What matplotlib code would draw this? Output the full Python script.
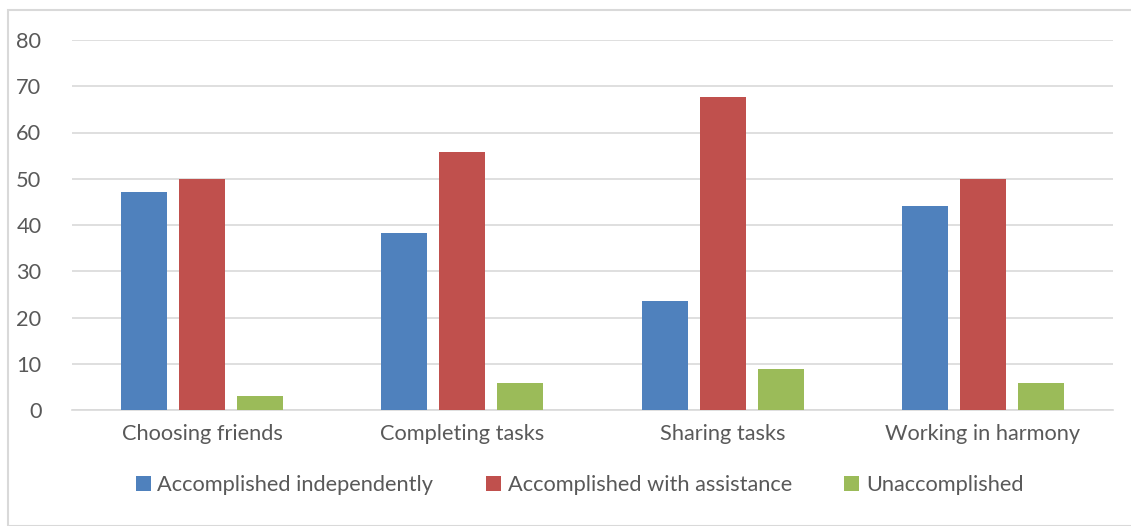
import numpy as np
import matplotlib.pyplot as plt
from matplotlib.patches import Rectangle

categories = ["Choosing friends", "Completing tasks", "Sharing tasks", "Working in harmony"]
independently = [47.06, 38.24, 23.53, 44.12]
with_assistance = [50.0, 55.88, 67.65, 50.0]
unaccomplished = [2.94, 5.88, 8.82, 5.88]
series_names = ["Accomplished independently", "Accomplished with assistance", "Unaccomplished"]
colors = ["#4f81bd", "#c0504d", "#9bbb59"]

plt.rcParams['font.family'] = ['Lato', 'DejaVu Sans']
text_color = "#595959"
fs = 15.7

W, H = 1131, 526
fig = plt.figure(figsize=(W / 100, H / 100), dpi=100)
ax = fig.add_axes([72 / W, 1 - 410 / H, (1113 - 72) / W, (410 - 40) / H])

x = np.arange(len(categories))
width = 46 / 260
step = 58 / 260
for i, (vals, name, c) in enumerate(zip([independently, with_assistance, unaccomplished], series_names, colors)):
    ax.bar(x + (i - 1) * step, vals, width, color=c, label=name, zorder=3)

ax.set_xlim(-0.5, len(categories) - 0.5)
ax.set_ylim(0, 80)
ax.set_yticks(range(0, 81, 10))
ax.yaxis.grid(True, color="#d9d9d9", linewidth=1.2, zorder=0)
for s in ["top", "right", "left"]:
    ax.spines[s].set_visible(False)
ax.spines["bottom"].set_color("#d9d9d9")
ax.spines["bottom"].set_linewidth(1.2)
ax.set_xticks(x)
ax.set_xticklabels(categories)
ax.tick_params(axis="both", length=0, labelsize=fs, labelcolor=text_color)
ax.tick_params(axis="y", pad=22)
ax.tick_params(axis="x", pad=10)

ax.legend(loc="center", bbox_to_anchor=(0.5 - 13 / 1041, (410 - 485) / 370), ncol=3, frameon=False,
          fontsize=fs, labelcolor=text_color, handlelength=0.7, handleheight=0.7,
          handletextpad=0.3, columnspacing=2.4)

# chart border
fig.patches.append(Rectangle((8 / W, 0), 1.2, 1 - 10 / H, transform=fig.transFigure,
                             fill=False, edgecolor="#d9d9d9", linewidth=1.5))

fig.savefig("out.png", dpi=100)
